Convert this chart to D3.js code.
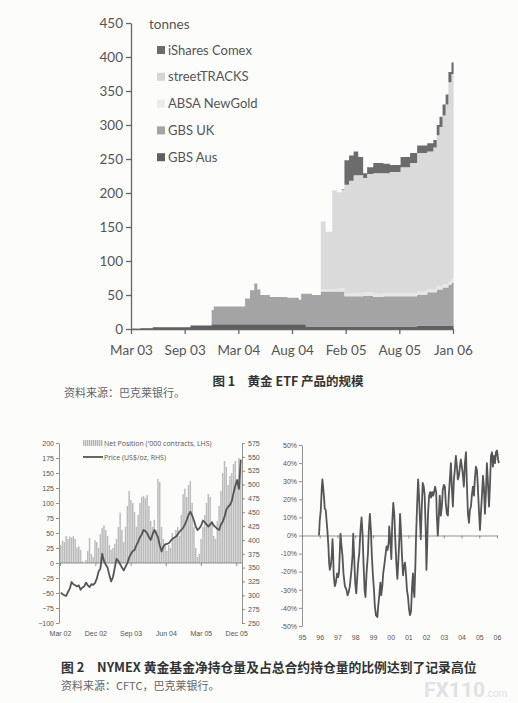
<!DOCTYPE html>
<html>
<head>
<meta charset="utf-8">
<script src="https://cdn.jsdelivr.net/npm/d3@7"></script>
<style>
  body { margin: 0; background: #fcfcfb; }
  svg { display: block; }
  .cap { font-family: "Noto Sans CJK SC", sans-serif; }
</style>
</head>
<body>
<svg id="page" width="518" height="703"></svg>
<script>
// ---------- figure 1 : gold ETF holdings (tonnes) ----------
const etfDates = ["2003-03-10","2003-04-10","2003-05-20","2003-09-20","2003-11-28","2003-12-05",
  "2004-03-16","2004-04-01","2004-04-15","2004-04-25","2004-05-05","2004-06-05","2004-08-01",
  "2004-09-07","2004-09-15","2004-09-30","2004-10-20","2004-11-18","2004-12-04","2004-12-25",
  "2005-01-10","2005-01-25","2005-02-03","2005-02-18","2005-03-05","2005-03-20","2005-04-05",
  "2005-04-18","2005-05-08","2005-06-10","2005-07-01","2005-08-05","2005-09-05","2005-09-28",
  "2005-10-31","2005-11-20","2005-12-01","2005-12-10","2005-12-20","2005-12-30","2006-01-08",
  "2006-01-18","2006-01-25"];
const gbsAus   = [0.5,1,2.5,5,7,7, 7,7,7,7,7,7,7, 7,7,3.5,3.5,3.5,3.5,3.5, 3.5,3.5,3.5,3.5,3.5,3.5,3.5,
  3.5,3.5,3.5,3.5,3.5,3.5,5, 5,5,5,5,5,5,5, 5,5];
const gbsUK    = [0,0,0,0,21,26, 38,50,60,51,43,40,39, 36,45,48.5,46.5,51.5,51.5,51.5, 51.5,51.5,44.5,44.5,44.5,44.5,45.5,
  45.5,43.5,44.5,44.5,44.5,44.5,45, 49,49,53,53,56,56,60, 63,63];
const absaNewGold = [0,0,0,0,0,0, 0,0,0,0,0,0,0, 0,0,0,0,4,4,4, 5,5,5,5,5,5,5,
  5,5,5,5,5,5,5, 5,5,5,5,5,5,5, 5,5];
const streetTracks = [0,0,0,0,0,0, 0,0,0,0,0,0,0, 0,0,0,0,99,84,145, 141,145,159,165,173,173,168,
  174,177,176,178,185,191,204, 202,208,222,234,248,264,293, 302,305];
const iSharesComex = [0,0,0,0,0,0, 0,0,0,0,0,0,0, 0,0,0,0,0,0,0, 0,1,36,37,35,27,7,
  10,15,14,10,15,15,11, 12,11,15,15,16,15,15, 17,20];
const etfKeys   = ["GBS Aus","GBS UK","ABSA NewGold","streetTRACKS","iShares Comex"];
const etfColors = ["#5f5f5f","#a4a4a4","#e6e6e6","#dadada","#6c6c6c"];
const etfTickDates  = ["2003-03-10","2003-09-01","2004-02-23","2004-08-16","2005-02-07","2005-08-01","2006-01-23"];
const etfTickLabels = ["Mar 03","Sep 03","Mar 04","Aug 04","Feb 05","Aug 05","Jan 06"];
const tonneTicks = [0,50,100,150,200,250,300,350,400,450];

// ---------- figure 2 left : NYMEX net position & price ----------
const netStart = "2002-03-01";   // bars are fortnightly from here
const netPosition = [30,37,35,45,40,44,42,45,40,26, 28,22,3,0,5, 20,42,15,10,38, 35,25,48,58,63,
  55,45,30,22,25, 32,40,60,84,55, 35,60,95,120,105, 100,85,60,80,100, 110,112,108,113,95,
  70,60,72,55,140, 135,60,40,30,20, 30,25,50,40,55, 60,45,80,115,124, 110,130,137,100,60,
  25,10,15,40,60, 80,100,115,110,70, 45,40,70,95,120, 150,170,160,130,145, 150,165,170,140,175, 160];
const goldPrice = [305,302,300,299,306,312,324,320,318,316, 318,310,314,316,323, 318,315,320,319,322,
  330,343,348,375,362, 355,350,336,325,333, 350,366,362,356,350, 345,352,358,368,375,
  380,382,390,397,405, 410,418,416,412,405, 400,410,418,412,405, 390,379,388,392,393,
  394,398,402,404,406, 410,415,418,422,428, 436,445,451,444,435, 424,418,421,426,435,
  432,428,424,428,432, 426,423,420,418,428, 433,442,455,460,463, 470,485,498,508,492, 545];
const netTicks   = [-100,-75,-50,-25,0,25,50,75,100,125,150,175,200];
const priceTicks = [250,275,300,325,350,375,400,425,450,475,500,525,550,575];
const nymexTickDates  = ["2002-03-01","2002-12-01","2003-09-01","2004-06-01","2005-03-01","2005-12-01"];
const nymexTickLabels = ["Mar 02","Dec 02","Sep 03","Jun 04","Mar 05","Dec 05"];

// ---------- figure 2 right : net position as % of open interest ----------
const ratioYears = [1995.96,1996.00,1996.06,1996.11,1996.15,1996.19,1996.25,1996.28,1996.34,1996.38,
  1996.43,1996.49,1996.53,1996.57,1996.62,1996.68,1996.72,1996.75,1996.79,1996.85,1996.91,1996.98,
  1997.04,1997.09,1997.17,1997.23,1997.28,1997.34,1997.42,1997.51,1997.57,1997.64,1997.70,1997.79,
  1997.85,1997.89,1997.94,1998.00,1998.06,1998.11,1998.17,1998.23,1998.30,1998.36,1998.42,1998.47,
  1998.53,1998.58,1998.64,1998.72,1998.77,1998.83,1998.89,1998.94,1999.00,1999.06,1999.11,1999.17,
  1999.25,1999.30,1999.36,1999.42,1999.47,1999.53,1999.58,1999.66,1999.72,1999.77,1999.83,1999.89,
  1999.92,1999.98,2000.04,2000.09,2000.15,2000.21,2000.26,2000.32,2000.38,2000.43,2000.49,2000.53,
  2000.58,2000.64,2000.70,2000.75,2000.81,2000.87,2000.92,2000.98,2001.04,2001.09,2001.15,2001.21,
  2001.26,2001.30,2001.34,2001.40,2001.43,2001.49,2001.55,2001.60,2001.66,2001.70,2001.75,2001.81,
  2001.87,2001.92,2001.98,2002.02,2002.06,2002.11,2002.17,2002.23,2002.28,2002.34,2002.40,2002.45,
  2002.51,2002.57,2002.60,2002.66,2002.72,2002.77,2002.83,2002.89,2002.94,2003.00,2003.06,2003.11,
  2003.17,2003.23,2003.28,2003.34,2003.40,2003.45,2003.51,2003.57,2003.62,2003.68,2003.74,2003.79,
  2003.85,2003.91,2003.96,2004.02,2004.08,2004.13,2004.19,2004.25,2004.30,2004.36,2004.42,2004.47,
  2004.53,2004.58,2004.64,2004.70,2004.75,2004.81,2004.87,2004.92,2004.98,2005.04,2005.09,2005.15,
  2005.21,2005.26,2005.32,2005.38,2005.43,2005.49,2005.55,2005.60,2005.66,2005.72,2005.77,2005.83,
  2005.89,2005.94,2006.00,2006.06,2006.11];
const ratioPct = [0,8,14,25,31,27,20,15,14,9,
  3,-6,-15,-19,-17,-11,-2,-8,-22,-28,-26,-21,
  -23,-20,1,-6,-11,-21,-28,-30,-33,-31,-28,-19,
  -11,1,-11,-26,-32,-24,-15,-10,3,10,0,-15,
  -30,-34,-21,-10,3,12,2,-11,-22,-30,-39,-44,
  -45,-39,-33,-26,-33,-28,-21,-15,-10,-6,-8,-4,
  5,-2,-13,7,18,11,-2,-15,-24,-15,-2,12,
  3,-11,-22,-17,-15,-22,-30,-34,-41,-44,-42,-28,
  -21,-30,-34,-15,-2,16,31,22,7,-2,14,29,
  27,22,3,-19,-6,12,22,24,21,24,22,24,
  27,24,12,0,11,22,11,16,25,28,27,18,
  12,11,22,31,40,27,16,31,36,44,38,31,
  33,38,42,38,33,27,40,46,29,12,7,14,
  16,22,27,22,31,38,36,27,14,3,12,22,
  33,27,12,25,40,29,16,27,44,46,38,44,
  40,46,47,42,40];
const ratioTicks = [-50,-40,-30,-20,-10,0,10,20,30,40,50];
const yearTicks  = [1995,1996,1997,1998,1999,2000,2001,2002,2003,2004,2005,2006];

const parse = d3.timeParse("%Y-%m-%d");
const svg = d3.select("#page");
const ink = "#555";

// ================= figure 1 =================
const x1 = d3.scaleTime().domain([parse("2003-03-10"), parse("2006-01-23")]).range([131, 453]);
const y1 = d3.scaleLinear().domain([0, 450]).range([329, 23]);

const etfRows = etfDates.map((d, i) => ({
  date: parse(d),
  "GBS Aus": gbsAus[i], "GBS UK": gbsUK[i], "ABSA NewGold": absaNewGold[i],
  "streetTRACKS": streetTracks[i], "iShares Comex": iSharesComex[i]
}));
const stacked = d3.stack().keys(etfKeys)(etfRows);
const area1 = d3.area()
  .curve(d3.curveStepAfter)
  .x(d => x1(d.data.date))
  .y0(d => y1(d[0]))
  .y1(d => y1(d[1]));

const fig1 = svg.append("g");
fig1.selectAll("path.layer")
  .data(stacked)
  .join("path")
  .attr("class", "layer")
  .attr("fill", (d, i) => etfColors[i])
  .attr("d", area1);

const yAxis1 = fig1.append("g")
  .attr("transform", "translate(131,0)")
  .call(d3.axisLeft(y1).tickValues(tonneTicks).tickSize(5).tickSizeOuter(0).tickPadding(3));
const xAxis1 = fig1.append("g")
  .attr("transform", "translate(0,329)")
  .call(d3.axisBottom(x1).tickValues(etfTickDates.map(parse))
    .tickFormat((d, i) => etfTickLabels[i]).tickSize(5).tickSizeOuter(0).tickPadding(11));
[yAxis1, xAxis1].forEach(a => {
  a.selectAll("path,line").attr("stroke", "#666").attr("stroke-width", 1.3);
  a.selectAll("text").attr("fill", ink).style("font-family", "Lato, 'Open Sans', sans-serif").style("font-size", "13.5px");
});

fig1.append("text")
  .attr("x", 149).attr("y", 29)
  .attr("fill", ink)
  .style("font-family", "Lato, sans-serif").style("font-size", "13.5px")
  .text("tonnes");

// legend, top of stack first
const legendOrder = etfKeys.slice().reverse();
const legendSwatch = {"iShares Comex": "#6c6c6c", "streetTRACKS": "#d6d6d6", "ABSA NewGold": "#ebebeb",
  "GBS UK": "#a4a4a4", "GBS Aus": "#5f5f5f"};
const leg1 = fig1.selectAll("g.leg")
  .data(legendOrder)
  .join("g")
  .attr("class", "leg")
  .attr("transform", (d, i) => `translate(157,${50 + i * 26.8})`);
leg1.append("rect")
  .attr("x", 0).attr("y", -4).attr("width", 8).attr("height", 8)
  .attr("fill", d => legendSwatch[d]);
leg1.append("text")
  .attr("x", 11).attr("y", 4.5)
  .attr("fill", ink)
  .style("font-family", "Lato, sans-serif").style("font-size", "13px")
  .text(d => d);

svg.append("text").attr("class", "cap")
  .attr("x", 288).attr("y", 386).attr("text-anchor", "middle")
  .attr("fill", "#333").style("font-size", "12.5px").style("font-weight", 700)
  .text("图 1\u2003黄金 ETF 产品的规模");
svg.append("text").attr("class", "cap")
  .attr("x", 64).attr("y", 397)
  .attr("fill", "#666").style("font-size", "11px")
  .text("资料来源：巴克莱银行。");

// ================= figure 2 left =================
const startDate = parse(netStart);
const netRows = netPosition.map((v, i) => ({
  date: d3.timeDay.offset(startDate, 14 * i), net: v, price: goldPrice[i]
}));
const x2 = d3.scaleTime().domain([parse("2002-03-01"), parse("2006-01-15")]).range([60, 242]);
const yL = d3.scaleLinear().domain([-100, 200]).range([623, 443]);
const yR = d3.scaleLinear().domain([250, 575]).range([623, 443]);

const fig2 = svg.append("g").style("font-family", "'Open Sans', sans-serif");
fig2.append("g")
  .attr("fill", "#bcbcbc")
  .selectAll("rect")
  .data(netRows)
  .join("rect")
  .attr("x", d => x2(d.date))
  .attr("width", 1.5)
  .attr("y", d => Math.min(yL(d.net), yL(0)))
  .attr("height", d => Math.abs(yL(0) - yL(d.net)));

const leftAx = fig2.append("g").attr("transform", "translate(59,0)")
  .call(d3.axisLeft(yL).tickValues(netTicks).tickSize(3).tickSizeOuter(0).tickPadding(2));
const rightAx = fig2.append("g").attr("transform", "translate(242,0)")
  .call(d3.axisRight(yR).tickValues(priceTicks).tickSize(3).tickSizeOuter(0).tickPadding(3));
const zeroAx = fig2.append("g").attr("transform", `translate(0,${yL(0)})`)
  .call(d3.axisBottom(x2).tickValues(nymexTickDates.map(parse)).tickFormat("").tickSize(3).tickSizeOuter(0));
const labAx = fig2.append("g").attr("transform", "translate(0,629)")
  .call(d3.axisBottom(x2).tickValues(nymexTickDates.map(parse))
    .tickFormat((d, i) => nymexTickLabels[i]).tickSize(0).tickPadding(2));
labAx.select(".domain").remove();
[leftAx, rightAx, zeroAx].forEach(a => a.selectAll("path,line").attr("stroke", "#777").attr("stroke-width", 0.8));
[leftAx, rightAx, labAx].forEach(a => a.selectAll("text").attr("fill", ink).style("font-size", "7px"));
zeroAx.select(".domain").attr("d", `M60,0H242`);

fig2.append("path")
  .datum(netRows)
  .attr("fill", "none")
  .attr("stroke", "#555")
  .attr("stroke-width", 1.8)
  .attr("stroke-linejoin", "round")
  .attr("d", d3.line().x(d => x2(d.date) + 0.8).y(d => yR(d.price)));

// legend
const legBar = fig2.append("g").attr("transform", "translate(83,440)");
legBar.selectAll("rect")
  .data(d3.range(10))
  .join("rect")
  .attr("x", d => d * 2).attr("y", 0).attr("width", 1.4).attr("height", 6)
  .attr("fill", "#b5b5b5");
fig2.append("text").attr("x", 104).attr("y", 445.5).attr("fill", ink).style("font-size", "7px")
  .text("Net Position ('000 contracts, LHS)");
fig2.append("line").attr("x1", 83).attr("x2", 103).attr("y1", 457).attr("y2", 457)
  .attr("stroke", "#555").attr("stroke-width", 1.8);
fig2.append("text").attr("x", 104).attr("y", 459.5).attr("fill", ink).style("font-size", "7px")
  .text("Price (US$/oz, RHS)");

// ================= figure 2 right =================
const x3 = d3.scaleLinear().domain([1995, 2006]).range([302, 497]);
const y3 = d3.scaleLinear().domain([-50, 50]).range([626, 445]);
const fig3 = svg.append("g").style("font-family", "'Open Sans', sans-serif");

const ratioAx = fig3.append("g").attr("transform", "translate(302,0)")
  .call(d3.axisLeft(y3).tickValues(ratioTicks).tickFormat(d => d + "%").tickSize(3).tickSizeOuter(0).tickPadding(2));
const yearZero = fig3.append("g").attr("transform", `translate(0,${y3(0)})`)
  .call(d3.axisBottom(x3).tickValues(yearTicks).tickFormat("").tickSize(3).tickSizeOuter(0));
const yearLab = fig3.append("g").attr("transform", "translate(0,633)")
  .call(d3.axisBottom(x3).tickValues(yearTicks).tickFormat(d => String(d).slice(2)).tickSize(0).tickPadding(2));
yearLab.select(".domain").remove();
[ratioAx, yearZero].forEach(a => a.selectAll("path,line").attr("stroke", "#777").attr("stroke-width", 0.8));
[ratioAx, yearLab].forEach(a => a.selectAll("text").attr("fill", ink).style("font-size", "7px"));

fig3.append("path")
  .datum(ratioYears.map((yr, i) => [yr, ratioPct[i]]))
  .attr("fill", "none")
  .attr("stroke", "#555")
  .attr("stroke-width", 1.8)
  .attr("stroke-linejoin", "round")
  .attr("d", d3.line().x(d => x3(d[0])).y(d => y3(d[1])));

// ================= captions =================
svg.append("text").attr("class", "cap")
  .attr("x", 61).attr("y", 672)
  .attr("fill", "#333").style("font-size", "12.8px").style("font-weight", 700)
  .text("图 2\u2003NYMEX 黄金基金净持仓量及占总合约持仓量的比例达到了记录高位");
svg.append("text").attr("class", "cap")
  .attr("x", 61).attr("y", 690)
  .attr("fill", "#666").style("font-size", "11px")
  .text("资料来源：CFTC，巴克莱银行。");

// scan watermark
const wm = svg.append("text").attr("x", 424).attr("y", 697)
  .attr("fill", "#e2e2e2").style("font-family", "Roboto, sans-serif").style("font-weight", 700);
wm.append("tspan").style("font-size", "21px").text("FX110");
wm.append("tspan").style("font-size", "10px").style("font-weight", 400).text(".com");
</script>
</body>
</html>
